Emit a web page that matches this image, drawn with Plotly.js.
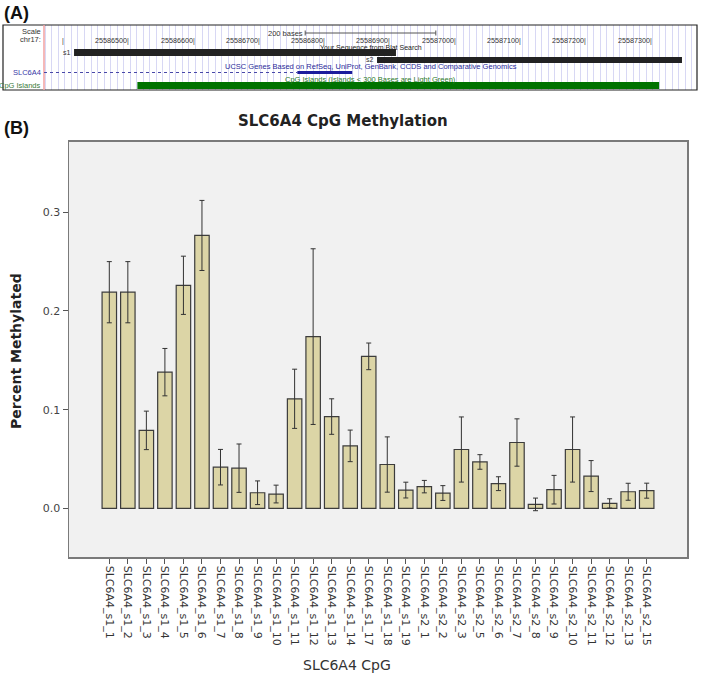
<!DOCTYPE html>
<html><head><meta charset="utf-8">
<script src="https://cdn.plot.ly/plotly-3.0.1.min.js"></script>
<style>html,body{margin:0;padding:0;background:#fff}</style>
</head><body><div id="chart" style="width:709px;height:674px"></div>
<script>
// ---------- Panel B data ----------
const cpgSites = ['SLC6A4_s1_1','SLC6A4_s1_2','SLC6A4_s1_3','SLC6A4_s1_4','SLC6A4_s1_5','SLC6A4_s1_6','SLC6A4_s1_7','SLC6A4_s1_8','SLC6A4_s1_9','SLC6A4_s1_10','SLC6A4_s1_11','SLC6A4_s1_12','SLC6A4_s1_13','SLC6A4_s1_14','SLC6A4_s1_17','SLC6A4_s1_18','SLC6A4_s1_19','SLC6A4_s2_1','SLC6A4_s2_2','SLC6A4_s2_3','SLC6A4_s2_5','SLC6A4_s2_6','SLC6A4_s2_7','SLC6A4_s2_8','SLC6A4_s2_9','SLC6A4_s2_10','SLC6A4_s2_11','SLC6A4_s2_12','SLC6A4_s2_13','SLC6A4_s2_15'];
const percentMethylated = [0.219,0.219,0.079,0.138,0.226,0.2765,0.0417,0.0407,0.0158,0.0145,0.111,0.174,0.093,0.0633,0.154,0.0444,0.0185,0.022,0.0155,0.0596,0.047,0.025,0.0667,0.004,0.0189,0.0596,0.0327,0.005,0.0168,0.0179];
const errorHalfWidth = [0.031,0.031,0.0195,0.024,0.0295,0.0355,0.018,0.0245,0.012,0.009,0.030,0.089,0.018,0.016,0.0135,0.028,0.008,0.0063,0.0075,0.033,0.0074,0.007,0.024,0.0064,0.0145,0.033,0.0157,0.0047,0.0086,0.0076];
const yTickVals = [0, 0.1, 0.2, 0.3];
const yTickText = ['0.0', '0.1', '0.2', '0.3'];

// ---------- Panel A data (genome browser view) ----------
const windowStart = 25586368, windowEnd = 25587368;
const coordLabels = [25586400,25586500,25586600,25586700,25586800,25586900,25587000,25587100,25587200,25587300];
const blatNames = ['s1', 's2'];
const blatStart = [25586414, 25586878];
const blatEnd = [25586907, 25587345];
const geneName = 'SLC6A4';
const geneExonStart = 25586756, geneExonEnd = 25586840;
const cpgIslandStart = 25586511, cpgIslandEnd = 25587310;
const scaleBarStart = 25586768, scaleBarBases = 200;

const W = 709, H = 674;
const px = v => v / W, py = v => 1 - v / H;
const sans = 'DejaVu Sans, sans-serif';
const ucsc = 'Liberation Sans, Arial, sans-serif';

const traces = [
  {
    type: 'bar', x: cpgSites, y: percentMethylated, xaxis: 'x', yaxis: 'y',
    marker: {color: '#dcd5a6', line: {color: '#3c3c3c', width: 1.2}},
    error_y: {type: 'data', array: errorHalfWidth, visible: true, color: '#333', thickness: 1, width: 2.5},
    hoverinfo: 'none', showlegend: false
  },
  {
    type: 'scatter', mode: 'lines', xaxis: 'x2', yaxis: 'y2',
    x: [scaleBarStart, scaleBarStart + scaleBarBases], y: [8, 8],
    line: {color: '#555', width: 1}, hoverinfo: 'none', showlegend: false
  }
];

const shapes = [
  {type: 'rect', xref: 'x domain', yref: 'y domain', x0: 0, x1: 1, y0: 0, y1: 1, fillcolor: '#f1f1f1', line: {width: 0}, layer: 'below'},
  {type: 'rect', xref: 'paper', yref: 'paper', x0: px(3), x1: px(697), y0: py(90), y1: py(25), line: {color: '#222', width: 1.2}},
  {type: 'line', xref: 'x2 domain', yref: 'y2 domain', x0: 0, x1: 0, y0: 0, y1: 1, line: {color: '#f2a0a0', width: 1.5}},
  {type: 'line', xref: 'x2', yref: 'y2', x0: scaleBarStart, x1: scaleBarStart, y0: 5.5, y1: 10.5, line: {color: '#555', width: 1}},
  {type: 'line', xref: 'x2', yref: 'y2', x0: scaleBarStart + scaleBarBases, x1: scaleBarStart + scaleBarBases, y0: 5.5, y1: 10.5, line: {color: '#555', width: 1}},
  {type: 'rect', xref: 'x2', yref: 'y2', x0: blatStart[0], x1: blatEnd[0], y0: 24, y1: 31, fillcolor: '#222', line: {width: 0}},
  {type: 'rect', xref: 'x2', yref: 'y2', x0: blatStart[1], x1: blatEnd[1], y0: 32, y1: 38, fillcolor: '#222', line: {width: 0}},
  {type: 'line', xref: 'x2', yref: 'y2', x0: windowStart, x1: geneExonStart, y0: 47.5, y1: 47.5, line: {color: '#4848a8', width: 1, dash: 'dot'}},
  {type: 'rect', xref: 'x2', yref: 'y2', x0: geneExonStart, x1: geneExonEnd, y0: 46, y1: 49, fillcolor: '#1c1c9c', line: {width: 0}},
  {type: 'rect', xref: 'x2', yref: 'y2', x0: cpgIslandStart, x1: cpgIslandEnd, y0: 57, y1: 64, fillcolor: '#007200', line: {width: 0}}
];

const annotations = [
  {text: '<b>(A)</b>', xref: 'paper', yref: 'paper', x: px(2), y: py(13), xanchor: 'left', yanchor: 'middle', showarrow: false, font: {family: ucsc, size: 18, color: '#111'}},
  {text: '<b>(B)</b>', xref: 'paper', yref: 'paper', x: px(2), y: py(128), xanchor: 'left', yanchor: 'middle', showarrow: false, font: {family: ucsc, size: 18, color: '#111'}},
  {text: '<b>SLC6A4 CpG Methylation</b>', xref: 'paper', yref: 'paper', x: px(343), y: py(121), xanchor: 'center', yanchor: 'middle', showarrow: false, font: {family: sans, size: 15, color: '#222'}},
  {text: '<b>Percent Methylated</b>', xref: 'paper', yref: 'paper', x: px(16), y: py(351), xanchor: 'center', yanchor: 'middle', textangle: -90, showarrow: false, font: {family: sans, size: 14, color: '#222'}},
  {text: 'SLC6A4 CpG', xref: 'paper', yref: 'paper', x: px(347), y: py(665), xanchor: 'center', yanchor: 'middle', showarrow: false, font: {family: sans, size: 14, color: '#333'}},
  {text: 'Scale', xref: 'paper', yref: 'paper', x: px(43), y: py(32), xanchor: 'right', yanchor: 'middle', showarrow: false, font: {family: ucsc, size: 7.5, color: '#333'}},
  {text: 'chr17:', xref: 'paper', yref: 'paper', x: px(43), y: py(39.5), xanchor: 'right', yanchor: 'middle', showarrow: false, font: {family: ucsc, size: 7.5, color: '#333'}},
  {text: geneName, xref: 'paper', yref: 'paper', x: px(43), y: py(72), xanchor: 'right', yanchor: 'middle', showarrow: false, font: {family: ucsc, size: 7.5, color: '#3a3aa8'}},
  {text: 'CpG Islands', xref: 'paper', yref: 'paper', x: px(43), y: py(86), xanchor: 'right', yanchor: 'middle', showarrow: false, font: {family: ucsc, size: 7.5, color: '#3a7a3a'}},
  {text: scaleBarBases + ' bases', xref: 'x2', yref: 'y2', x: scaleBarStart, y: 8, xanchor: 'right', yanchor: 'middle', showarrow: false, font: {family: ucsc, size: 7.5, color: '#333'}},
  {text: 'Your Sequence from Blat Search', xref: 'x2 domain', yref: 'y2', x: 0.5, y: 22.5, xanchor: 'center', yanchor: 'middle', showarrow: false, font: {family: ucsc, size: 7, color: '#222'}},
  {text: 'UCSC Genes Based on RefSeq, UniProt, GenBank, CCDS and Comparative Genomics', xref: 'x2 domain', yref: 'y2', x: 0.5, y: 41.5, xanchor: 'center', yanchor: 'middle', showarrow: false, font: {family: ucsc, size: 7.5, color: '#2a2a9a'}},
  {text: 'CpG Islands (Islands &lt; 300 Bases are Light Green)', xref: 'x2 domain', yref: 'y2', x: 0.5, y: 54.5, xanchor: 'center', yanchor: 'middle', showarrow: false, font: {family: ucsc, size: 7.5, color: '#2a7a2a'}}
];
coordLabels.forEach((pos, i) => {
  annotations.push({text: (i === 0 ? '' : String(pos)) + '|', xref: 'x2', yref: 'y2', x: pos, y: 15, xanchor: 'right', yanchor: 'middle', xshift: 1, showarrow: false, font: {family: ucsc, size: 7.2, color: '#333'}});
});
blatNames.forEach((nm, i) => {
  annotations.push({text: nm, xref: 'x2', yref: 'y2', x: blatStart[i], y: i === 0 ? 27.5 : 34, xanchor: 'right', yanchor: 'middle', xshift: -1, showarrow: false, font: {family: ucsc, size: 7, color: '#333'}});
});

const layout = {
  width: W, height: H, margin: {l: 0, r: 0, t: 0, b: 0},
  paper_bgcolor: '#fff', plot_bgcolor: 'rgba(0,0,0,0)',
  showlegend: false, bargap: 0.22,
  xaxis: {
    domain: [px(69), px(687)], anchor: 'y', type: 'category', range: [-2.175, 31.175],
    tickangle: 90, ticks: 'outside', ticklen: 5, tickcolor: '#555', tickwidth: 1,
    showline: true, mirror: true, linecolor: '#7a7a7a', linewidth: 1.5,
    showgrid: false, zeroline: false, tickfont: {family: sans, size: 11, color: '#333'}, fixedrange: true
  },
  yaxis: {
    domain: [py(557), py(141.7)], anchor: 'x', range: [-0.0493, 0.3715],
    tickvals: yTickVals, ticktext: yTickText, ticks: 'outside', ticklen: 5, tickcolor: '#555', tickwidth: 1,
    showline: true, mirror: true, linecolor: '#7a7a7a', linewidth: 1.5,
    showgrid: false, zeroline: false, tickfont: {family: sans, size: 11, color: '#444'}, fixedrange: true
  },
  xaxis2: {
    domain: [px(44), px(697)], anchor: 'y2', range: [windowStart, windowEnd],
    showgrid: true, gridcolor: '#d8d8f4', gridwidth: 1, tick0: 25586370, dtick: 10,
    showticklabels: false, ticks: '', zeroline: false, showline: false, fixedrange: true
  },
  yaxis2: {
    domain: [py(90), py(25)], anchor: 'x2', range: [65, 0],
    showgrid: false, showticklabels: false, ticks: '', zeroline: false, showline: false, fixedrange: true
  },
  shapes: shapes, annotations: annotations
};

Plotly.newPlot('chart', traces, layout, {displayModeBar: false, staticPlot: true});
</script>
</body></html>
